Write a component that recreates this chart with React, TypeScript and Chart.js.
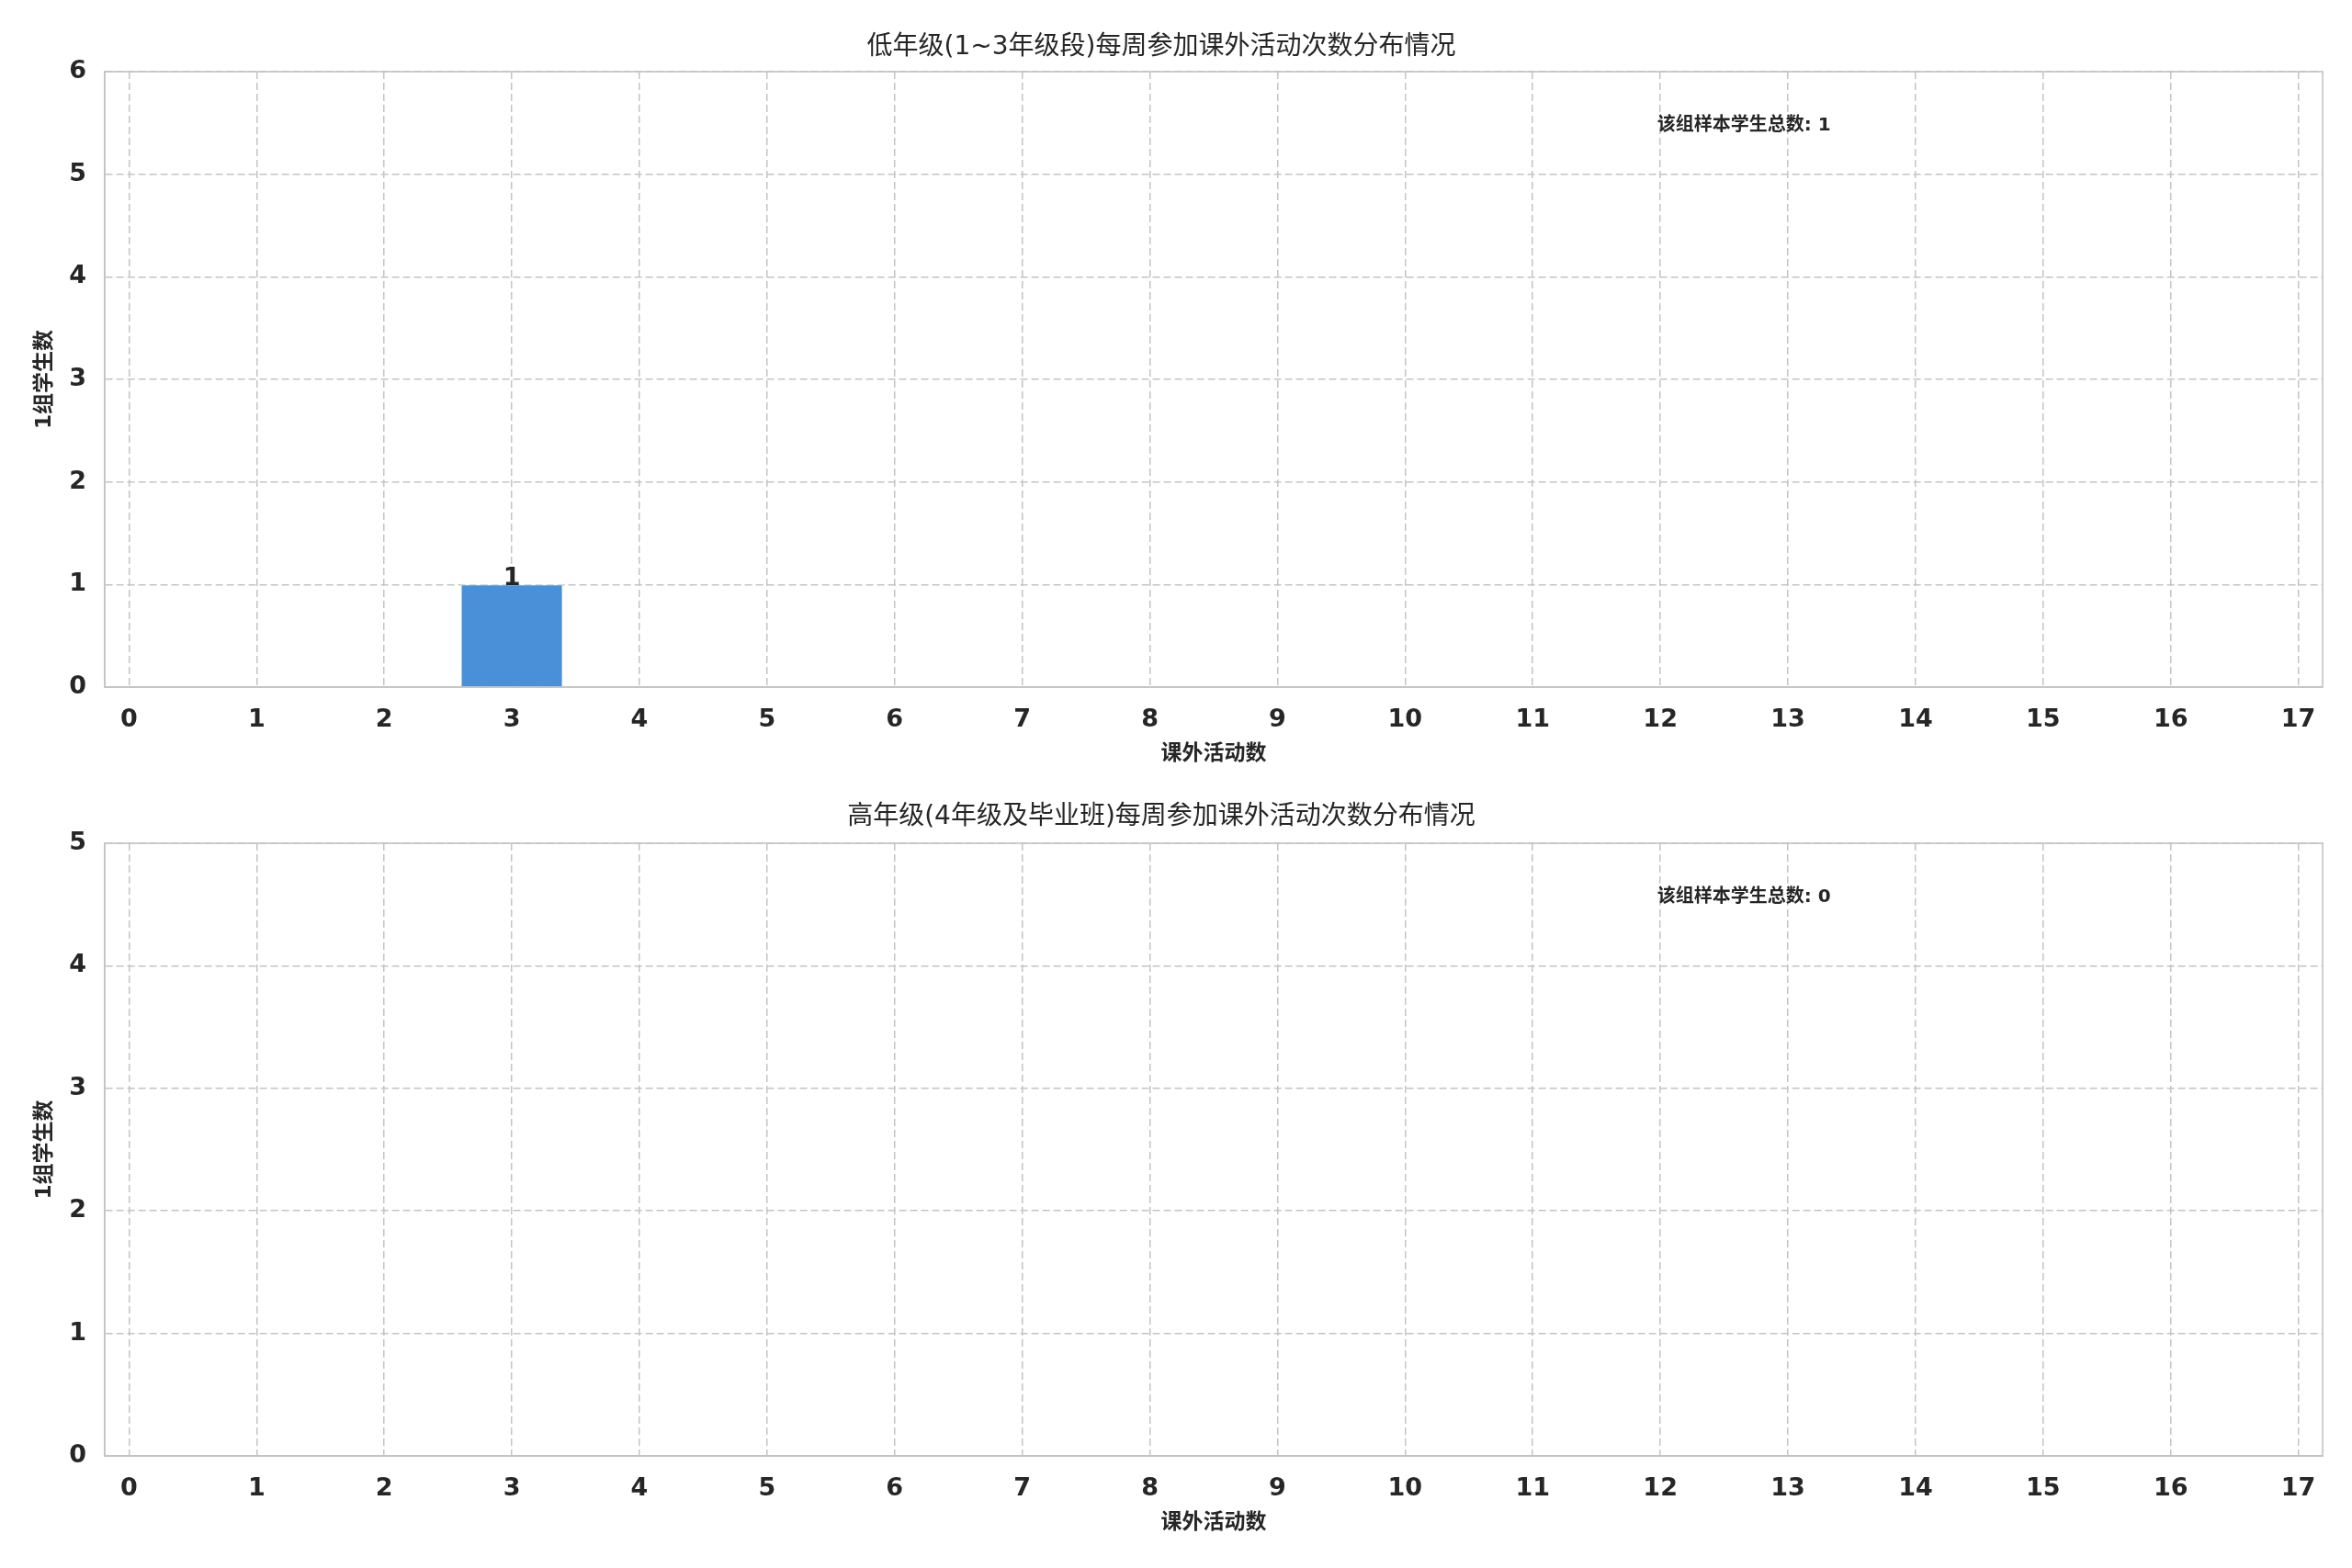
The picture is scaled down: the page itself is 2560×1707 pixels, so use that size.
import React, { useEffect, useRef } from "react";
import { Chart, registerables } from "chart.js";

Chart.register(...registerables);

const FONT = "'DejaVu Sans', 'Noto Sans CJK SC', sans-serif";
const TEXT = "#262626";
const GRID = "#c4c4c4";
const BAR = "#4a90d9";

// ---- data ----
const bins = [0, 1, 2, 3, 4, 5, 6, 7, 8, 9, 10, 11, 12, 13, 14, 15, 16, 17];
const lowerCounts = [0, 0, 0, 1, 0, 0, 0, 0, 0, 0, 0, 0, 0, 0, 0, 0, 0, 0];
const upperCounts = [0, 0, 0, 0, 0, 0, 0, 0, 0, 0, 0, 0, 0, 0, 0, 0, 0, 0];
const lowerYMax = 6;
const upperYMax = 5;
const xMin = -0.19;
const xMax = 17.19;
const lowerTitle = "低年级(1~3年级段)每周参加课外活动次数分布情况";
const upperTitle = "高年级(4年级及毕业班)每周参加课外活动次数分布情况";
const xLabel = "课外活动数";
const yLabel = "1组学生数";
const totalLabel = "该组样本学生总数";

const decorPlugin = {
  id: "decor",
  afterDatasetsDraw(chart: any) {
    const { ctx, chartArea: a, scales } = chart;
    const xs = scales.x;
    const ys = scales.y;
    const counts: number[] = chart.data.datasets[0].data.map((d: any) => d.y);
    ctx.save();
    ctx.fillStyle = TEXT;
    ctx.font = `bold 27px ${FONT}`;
    ctx.textAlign = "center";
    ctx.textBaseline = "alphabetic";
    chart.data.datasets[0].data.forEach((d: any) => {
      if (d.y > 0) {
        ctx.fillText(String(d.y), xs.getPixelForValue(d.x), ys.getPixelForValue(d.y) + 1);
      }
    });
    const total = counts.reduce((s, v) => s + v, 0);
    ctx.font = `bold 20px ${FONT}`;
    ctx.textAlign = "left";
    ctx.textBaseline = "middle";
    ctx.fillText(
      `${totalLabel}: ${total}`,
      a.left + 0.70 * (a.right - a.left),
      a.bottom - 0.912 * (a.bottom - a.top)
    );
    ctx.restore();
  },
  afterDraw(chart: any) {
    const { ctx, chartArea: a } = chart;
    ctx.save();
    ctx.setLineDash([]);
    ctx.strokeStyle = GRID;
    ctx.lineWidth = 1.6;
    ctx.strokeRect(a.left, a.top, a.right - a.left, a.bottom - a.top);
    ctx.restore();
  },
};

function makeConfig(counts: number[], yMax: number, title: string, titlePad: { top: number; bottom: number }) {
  return {
    type: "bar" as const,
    data: {
      datasets: [
        {
          data: bins.map((b, i) => ({ x: b, y: counts[i] })),
          backgroundColor: BAR,
          borderColor: "rgba(255,255,255,0.55)",
          borderWidth: (c: any) => (c.raw && c.raw.y > 0 ? 1 : 0),
          barPercentage: 0.8,
          categoryPercentage: 1.0,
        },
      ],
    },
    options: {
      responsive: false,
      animation: false,
      devicePixelRatio: 1,
      layout: { padding: { left: 0, right: 32, top: 0, bottom: 0 } },
      plugins: {
        legend: { display: false },
        tooltip: { enabled: false },
        title: {
          display: true,
          text: title,
          color: TEXT,
          font: { family: FONT, size: 28, weight: "normal", lineHeight: 1.2 },
          padding: titlePad,
        },
      },
      scales: {
        x: {
          type: "linear",
          min: xMin,
          max: xMax,
          offset: false,
          afterFit: (s: any) => {
            s.height = 105;
          },
          ticks: {
            stepSize: 1,
            includeBounds: false,
            autoSkip: false,
            maxRotation: 0,
            padding: 20,
            color: TEXT,
            font: { family: FONT, size: 27, weight: "bold" },
          },
          grid: { color: GRID, lineWidth: 1.5, drawTicks: false, tickLength: 0, offset: false },
          border: { display: true, color: GRID, width: 1.6, dash: [8, 4] },
          title: {
            display: true,
            text: xLabel,
            color: TEXT,
            font: { family: FONT, size: 23, weight: "bold", lineHeight: 1.2 },
            padding: { top: 0, bottom: 18 },
          },
        },
        y: {
          type: "linear",
          min: 0,
          max: yMax,
          afterFit: (s: any) => {
            s.width = 114;
          },
          ticks: {
            stepSize: 1,
            padding: 20,
            color: TEXT,
            font: { family: FONT, size: 27, weight: "bold" },
          },
          grid: { color: GRID, lineWidth: 1.5, drawTicks: false, tickLength: 0 },
          border: { display: true, color: GRID, width: 1.6, dash: [8, 4] },
          title: {
            display: true,
            text: yLabel,
            color: TEXT,
            font: { family: FONT, size: 23, weight: "bold", lineHeight: 1.2 },
            padding: { top: 35, bottom: 0 },
          },
        },
      },
    },
    plugins: [decorPlugin],
  };
}

function Panel(props: {
  counts: number[];
  yMax: number;
  title: string;
  titlePad: { top: number; bottom: number };
  top: number;
  height: number;
}) {
  const ref = useRef<HTMLCanvasElement | null>(null);
  useEffect(() => {
    if (!ref.current) return;
    const chart = new Chart(ref.current, makeConfig(props.counts, props.yMax, props.title, props.titlePad) as any);
    return () => chart.destroy();
  }, []);
  return (
    <canvas
      ref={ref}
      width={2560}
      height={props.height}
      style={{ position: "absolute", left: 0, top: props.top, width: 2560, height: props.height, display: "block" }}
    />
  );
}

export default function App() {
  return (
    <div style={{ position: "absolute", left: 0, top: 0, width: 2560, height: 1707, background: "#ffffff", overflow: "hidden" }}>
      <Panel counts={lowerCounts} yMax={lowerYMax} title={lowerTitle} titlePad={{ top: 35, bottom: 9.4 }} top={0} height={853} />
      <Panel counts={upperCounts} yMax={upperYMax} title={upperTitle} titlePad={{ top: 20, bottom: 11.4 }} top={853} height={837} />
    </div>
  );
}
